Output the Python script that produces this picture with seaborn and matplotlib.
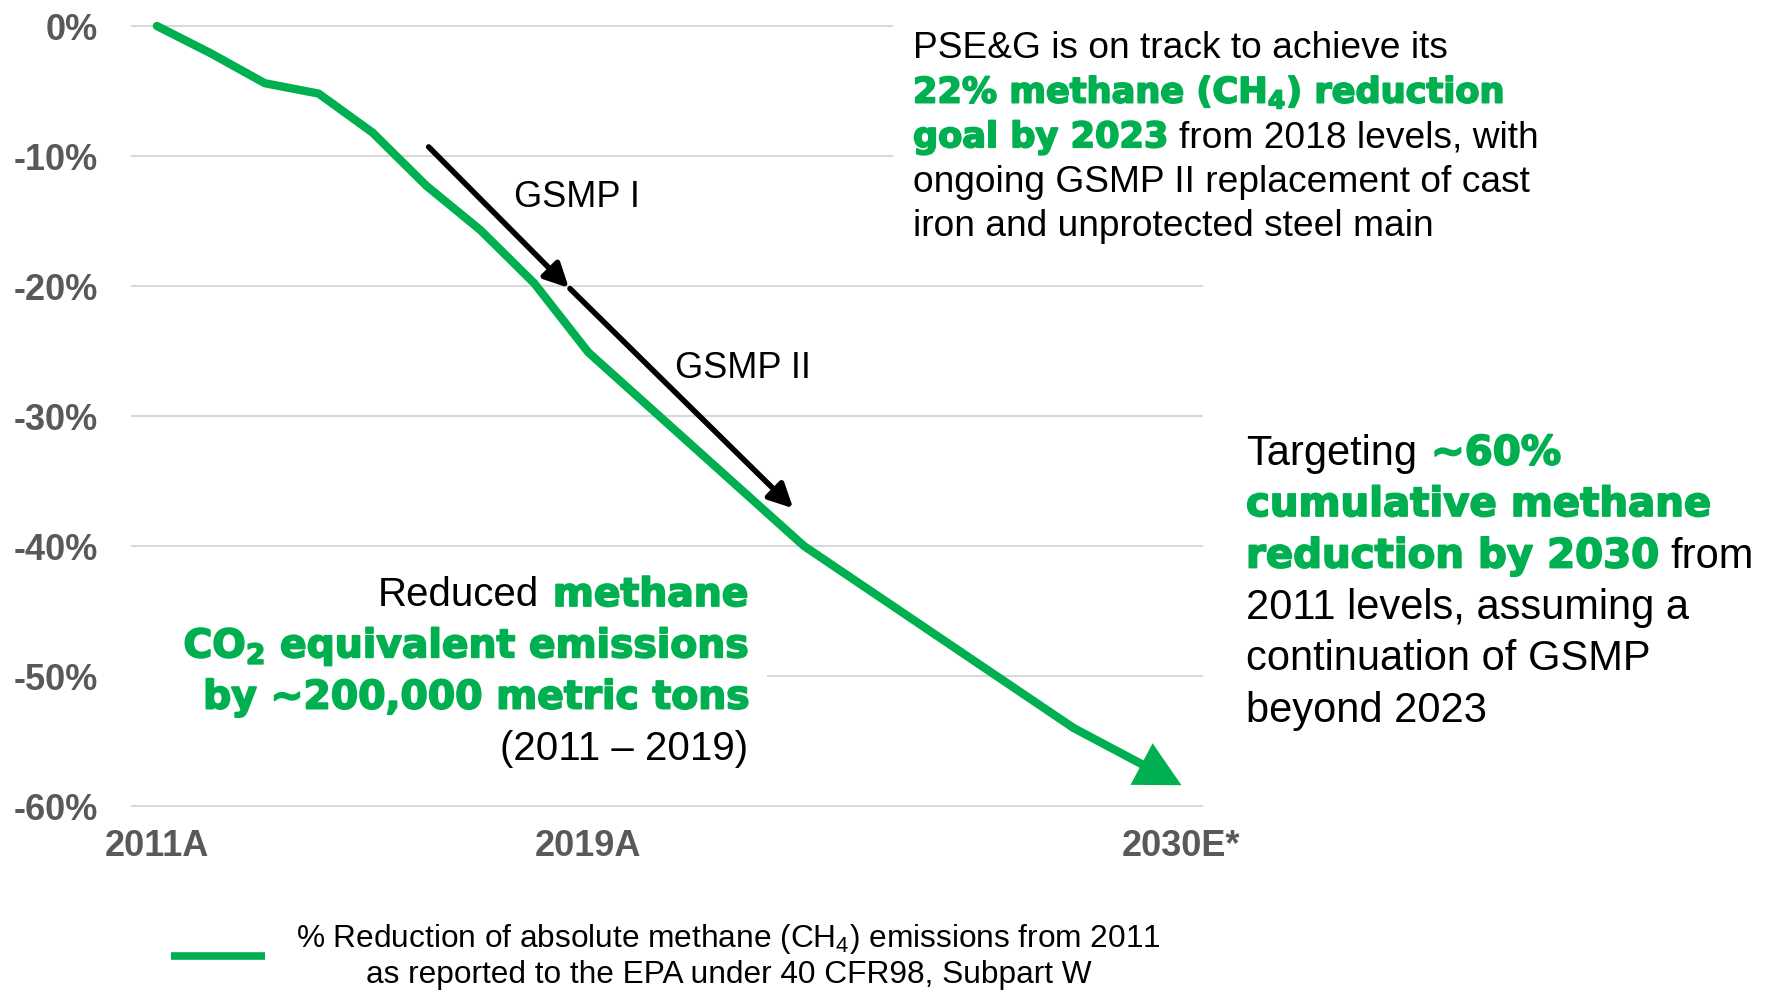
import matplotlib
matplotlib.use("Agg")
import matplotlib.pyplot as plt
import matplotlib.patheffects as pe
from matplotlib.patches import Rectangle
import pandas as pd
import seaborn as sns

# ---- data --------------------------------------------------------------
years = [2011, 2012, 2013, 2014, 2015, 2016, 2017, 2018, 2019, 2023, 2028, 2030]
reduction = [0.0, -2.1, -4.4, -5.2, -8.2, -12.3, -15.7, -19.8, -25.1, -40.0, -54.0, -58.4]
x_ticks = [2011, 2019, 2030]
x_labels = ["2011A", "2019A", "2030E*"]
y_ticks = [0, -10, -20, -30, -40, -50, -60]
y_labels = [f"{v}%" for v in y_ticks]
legend_label = ("% Reduction of absolute methane (CH$_4$) emissions from 2011\n"
                "as reported to the EPA under 40 CFR98, Subpart W")

# program arrows (data coords: start -> end)
gsmp_arrows = [((2016.04, -9.3), (2018.64, -20.15)),
               ((2018.66, -20.2), (2022.8, -37.1))]

GREEN = "#00B050"
GREY = "#595959"
W, H = 1783, 993

sns.set_theme(style="white")
plt.rcParams["font.family"] = ["Liberation Sans", "DejaVu Sans"]
plt.rcParams["mathtext.default"] = "regular"
plt.rcParams["text.color"] = "black"

fig = plt.figure(figsize=(W / 100, H / 100), dpi=100)


def px_box(x0, y0, x1, y1):
    """pixel box (top-left origin) -> figure fraction [l, b, w, h]"""
    return [x0 / W, 1 - y1 / H, (x1 - x0) / W, (y1 - y0) / H]


ax = fig.add_axes(px_box(131, 19.5, 1203, 812.5))
df = pd.DataFrame({"year": years[:-1], "reduction": reduction[:-1]})
sns.lineplot(data=df, x="year", y="reduction", ax=ax, color=GREEN, lw=6,
             solid_capstyle="round", zorder=4, label=legend_label)
ax.annotate("", xy=(years[-1], reduction[-1]), xytext=(years[-2], reduction[-2]),
            arrowprops=dict(arrowstyle="-|>,head_length=1.15,head_width=0.6",
                            color=GREEN, lw=6, mutation_scale=20,
                            shrinkA=0, shrinkB=0, joinstyle="miter"),
            zorder=4)
for (x0, y0), (x1, y1) in gsmp_arrows:
    ax.annotate("", xy=(x1, y1), xytext=(x0, y0),
                arrowprops=dict(arrowstyle="-|>,head_length=1.2,head_width=0.6",
                                color="black", lw=4, mutation_scale=12,
                                shrinkA=0, shrinkB=0),
                zorder=5)

ax.set_xlim(2010.52, 2030.4)
ax.set_ylim(-60.5, 0.5)
ax.set_xticks(x_ticks)
ax.set_xticklabels(x_labels, fontsize=26, fontweight="bold", color=GREY)
ax.set_yticks(y_ticks)
ax.set_yticklabels(y_labels, fontsize=26, fontweight="bold", color=GREY)
ax.tick_params(axis="y", length=0, pad=24)
ax.tick_params(axis="x", length=0, pad=12)
ax.set_xlabel("")
ax.set_ylabel("")
ax.set_axisbelow(True)
ax.grid(axis="y", color="#D9D9D9", lw=1.5)
ax.grid(axis="x", visible=False)
for sp in ax.spines.values():
    sp.set_visible(False)

# white boxes behind the call-out texts (hide gridlines there)
for x0, y0, x1, y1 in [(893, 0, 1215, 262), (120, 570, 767, 775)]:
    ax.add_patch(Rectangle((x0 / W, 1 - y1 / H), (x1 - x0) / W, (y1 - y0) / H,
                           transform=fig.transFigure, facecolor="white",
                           edgecolor="none", zorder=1, clip_on=False))

leg = ax.legend(loc="center", bbox_to_anchor=(666 / W, 1 - 956 / H),
                bbox_transform=fig.transFigure, frameon=False, fontsize=22.8,
                handlelength=2.95, handletextpad=1.0, labelcolor="black")
for t in leg.get_texts():
    t.set_multialignment("center")
for ln in leg.get_lines():
    ln.set_solid_capstyle("butt")
    ln.set_linewidth(5.5)

fig.text(514 / W, 1 - 207 / H, "GSMP I", fontsize=26, color="black", va="baseline")
fig.text(675 / W, 1 - 378 / H, "GSMP II", fontsize=26, color="black", va="baseline")

renderer = fig.canvas.get_renderer()


def space_w(st):
    a = fig.text(0, 0, "a a", **st)
    b = fig.text(0, 0, "aa", **st)
    w = a.get_window_extent(renderer).width - b.get_window_extent(renderer).width
    a.remove()
    b.remove()
    return w


def rich_line(x, y, parts, ha="left"):
    texts = []
    cx = x
    for i, (s, st) in enumerate(parts):
        if i:
            cx += space_w(st)
        t = fig.text(cx / W, 1 - y / H, s, va="baseline", ha="left", **st)
        cx = t.get_window_extent(renderer).x1
        texts.append(t)
    if ha == "right":
        shift = (x - (cx - x)) - x
        for t in texts:
            px, py = t.get_position()
            t.set_position((px + shift / W, py))


def block(x, y0, step, lines, ha="left"):
    for i, parts in enumerate(lines):
        rich_line(x, y0 + i * step, parts, ha)


def reg(size):
    return dict(fontsize=size, color="black")


def grn(size):
    # heavier look (the original uses a black-weight face)
    return dict(fontsize=size, color=GREEN, family="DejaVu Sans", fontweight="bold",
                path_effects=[pe.withStroke(linewidth=1.3, foreground=GREEN)])


r, g = reg(26.7), grn(25.3)
block(913, 58, 44.6, [
    [("PSE&G is on track to achieve its", r)],
    [("22% methane (CH$_4$) reduction", g)],
    [("goal by 2023", g), ("from 2018 levels, with", r)],
    [("ongoing GSMP II replacement of cast", r)],
    [("iron and unprotected steel main", r)],
])

r, g = reg(29), grn(28.3)
block(748, 606, 51.3, [
    [("Reduced", r), ("methane", g)],
    [("CO$_2$ equivalent emissions", g)],
    [("by ~200,000 metric tons", g)],
    [("(2011 – 2019)", r)],
], ha="right")

r, g = reg(30), grn(29)
block(1246, 464.5, 51.5, [
    [("Targeting", r), ("~60%", g)],
    [("cumulative methane", g)],
    [("reduction by 2030", g), ("from", r)],
    [("2011 levels, assuming a", r)],
    [("continuation of GSMP", r)],
    [("beyond 2023", r)],
])

fig.savefig("out.png", dpi=100)
